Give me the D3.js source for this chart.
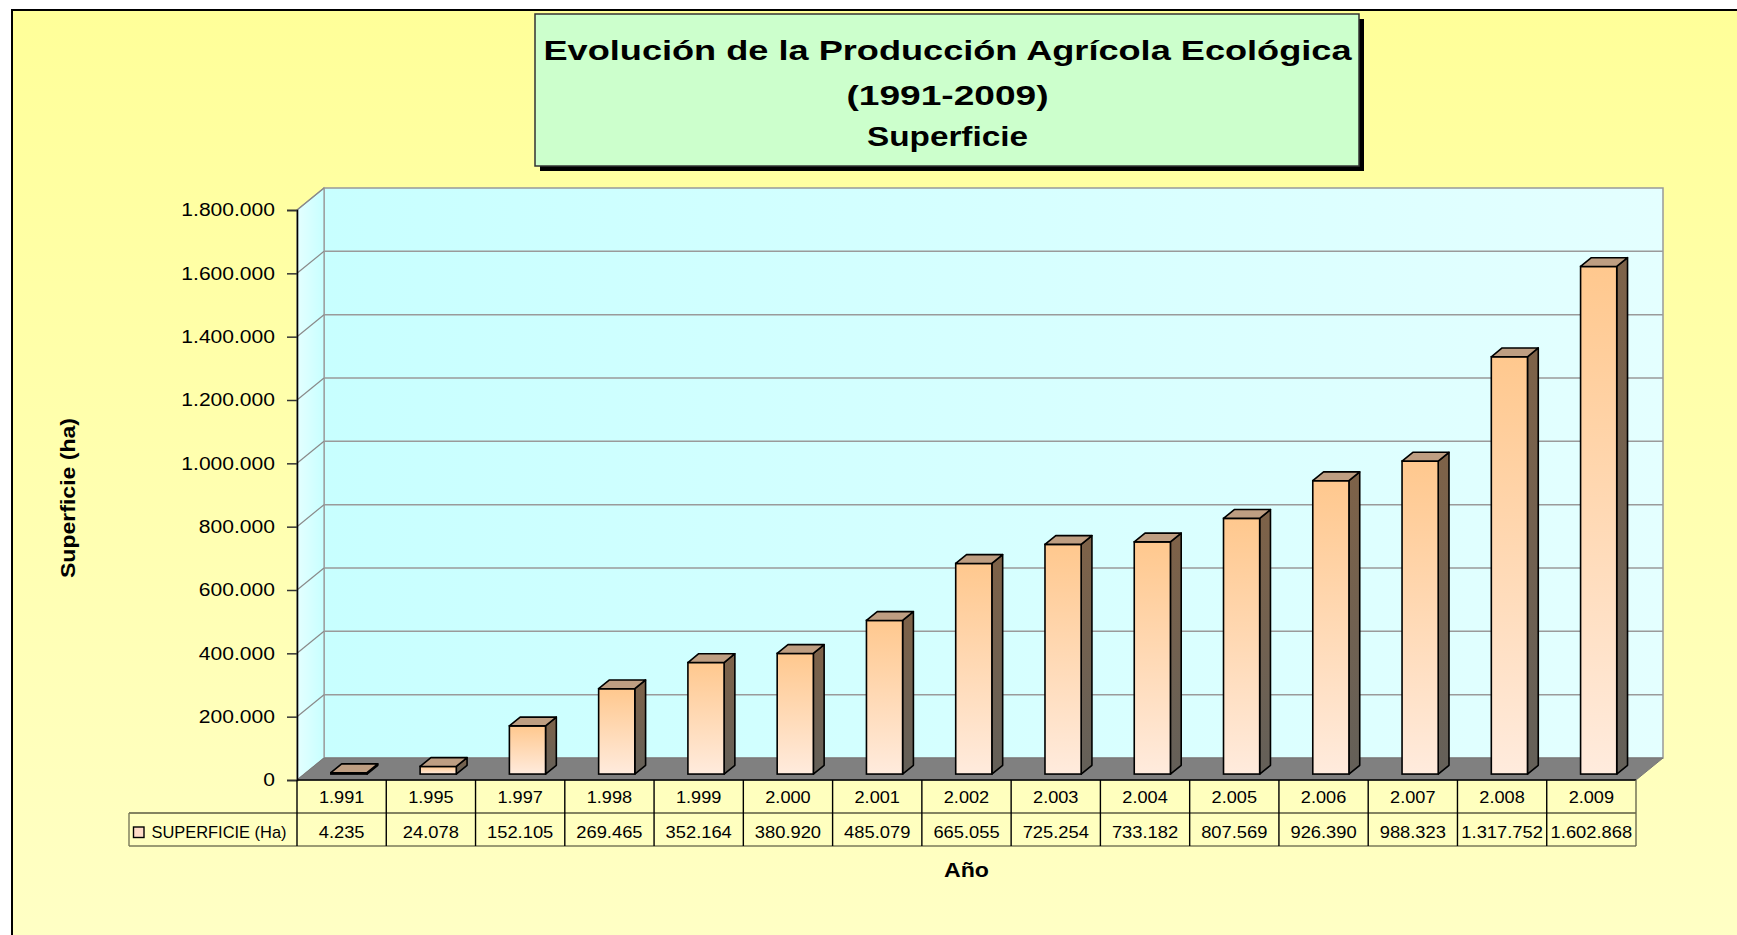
<!DOCTYPE html>
<html>
<head>
<meta charset="utf-8">
<script src="https://cdn.jsdelivr.net/npm/d3@7"></script>
<style>
  html, body { margin: 0; padding: 0; background: #ffffff; }
  svg { display: block; font-family: "Liberation Sans", Arial, Helvetica, sans-serif; }
</style>
</head>
<body>
<svg id="chart" width="1737" height="935"></svg>
<script>
// ---- data ----
const categories = ["1.991","1.995","1.997","1.998","1.999","2.000","2.001","2.002","2.003","2.004","2.005","2.006","2.007","2.008","2.009"];
const values = [4235, 24078, 152105, 269465, 352164, 380920, 485079, 665055, 725254, 733182, 807569, 926390, 988323, 1317752, 1602868];
const yTicks = [0, 200000, 400000, 600000, 800000, 1000000, 1200000, 1400000, 1600000, 1800000];
const seriesName = "SUPERFICIE (Ha)";
const titleLines = ["Evolución de la Producción Agrícola Ecológica", "(1991-2009)", "Superficie"];
const yTitle = "Superficie (ha)";
const xTitle = "Año";

// ---- layout ----
const W = 1737, H = 935;
const X0 = 297, X1 = 1636, YB = 780, YT = 210, DX = 27, DY = 22;
const ROW1 = 813, ROW2 = 846, LEG_X = 129;

const loc = d3.formatLocale({ decimal: ",", thousands: ".", grouping: [3], currency: ["", ""] });
const fmt = loc.format(",.0f");

const svg = d3.select("#chart");
const defs = svg.append("defs");

function linGrad(id, x1, y1, x2, y2, stops) {
  const g = defs.append("linearGradient").attr("id", id)
    .attr("x1", x1).attr("y1", y1).attr("x2", x2).attr("y2", y2);
  stops.forEach(s => g.append("stop").attr("offset", s[0]).attr("stop-color", s[1]));
}
linGrad("bgGrad", 0, 0, 0, 1, [[0, "#FFFF99"], [1, "#FFFFC6"]]);
linGrad("wallGrad", 0, 0, 1, 0, [[0, "#C8FFFF"], [1, "#E4FFFF"]]);
linGrad("sideGrad", 0, 0, 1, 0, [[0, "#E4FFFF"], [1, "#C8FFFF"]]);
linGrad("frontGrad", 0, 0, 0, 1, [[0, "#FFC88E"], [1, "#FFEBDD"]]);
linGrad("sideBarGrad", 0, 0, 0, 1, [[0, "#7E6248"], [1, "#646059"]]);

// background frame
svg.append("rect").attr("x", 12).attr("y", 10).attr("width", W + 20).attr("height", H + 20)
  .attr("fill", "url(#bgGrad)").attr("stroke", "#000").attr("stroke-width", 2);

// scales
const x = d3.scaleBand().domain(categories).range([X0, X1]).paddingInner(0).paddingOuter(0);
const y = d3.scaleLinear().domain([0, 1800000]).range([YB, YT]);

// back wall
svg.append("rect").attr("x", X0 + DX).attr("y", y(1800000) - DY)
  .attr("width", X1 - X0).attr("height", y(0) - y(1800000))
  .attr("fill", "url(#wallGrad)").attr("stroke", "#999").attr("stroke-width", 1.5);
// side wall
svg.append("path")
  .attr("d", `M${X0},${y(0)} L${X0},${y(1800000)} L${X0 + DX},${y(1800000) - DY} L${X0 + DX},${y(0) - DY} Z`)
  .attr("fill", "url(#sideGrad)").attr("stroke", "#999").attr("stroke-width", 1.2);
// floor
svg.append("path")
  .attr("d", `M${X0},${y(0)} L${X1},${y(0)} L${X1 + DX},${y(0) - DY} L${X0 + DX},${y(0) - DY} Z`)
  .attr("fill", "#808080").attr("stroke", "#777").attr("stroke-width", 1);

// gridlines
const grid = svg.append("g");
yTicks.filter(t => t > 0 && t < 1800000).forEach(t => {
  grid.append("line").attr("x1", X0 + DX).attr("x2", X1 + DX)
    .attr("y1", y(t) - DY).attr("y2", y(t) - DY).attr("stroke", "#9a9a9a").attr("stroke-width", 1.5);
});
yTicks.filter(t => t > 0).forEach(t => {
  grid.append("line").attr("x1", X0).attr("x2", X0 + DX)
    .attr("y1", y(t)).attr("y2", y(t) - DY).attr("stroke", "#8a8a8a").attr("stroke-width", 1.2);
});

// bars
const bw = x.bandwidth() * 0.405;
const f0 = 0.27, fd = 0.4;
const ddx = fd * DX, ddy = fd * DY;
const data = categories.map((c, i) => ({ c, v: values[i] }));
const bars = svg.append("g").selectAll("g").data(data).join("g");
bars.each(function (d) {
  const g = d3.select(this);
  const fx = x(d.c) + (x.bandwidth() - bw) / 2 + f0 * DX;
  const fy0 = y(0) - f0 * DY;
  const fy1 = y(d.v) - f0 * DY;
  g.append("path")
    .attr("d", `M${fx + bw},${fy1} L${fx + bw + ddx},${fy1 - ddy} L${fx + bw + ddx},${fy0 - ddy} L${fx + bw},${fy0} Z`)
    .attr("fill", "url(#sideBarGrad)").attr("stroke", "#000").attr("stroke-width", 1.6).attr("stroke-linejoin", "round");
  g.append("rect").attr("x", fx).attr("y", fy1).attr("width", bw).attr("height", Math.max(0.01, fy0 - fy1))
    .attr("fill", "url(#frontGrad)").attr("stroke", "#000").attr("stroke-width", 1.6);
  g.append("path")
    .attr("d", `M${fx},${fy1} L${fx + ddx},${fy1 - ddy} L${fx + bw + ddx},${fy1 - ddy} L${fx + bw},${fy1} Z`)
    .attr("fill", "#BE9E82").attr("stroke", "#000").attr("stroke-width", 1.6).attr("stroke-linejoin", "round");
});

// y axis
const yAxis = d3.axisLeft(y).tickValues(yTicks).tickSize(10).tickPadding(12)
  .tickFormat(d => fmt(d));
const ya = svg.append("g").attr("transform", `translate(${X0},0)`).call(yAxis);
ya.select(".domain").attr("stroke", "#000").attr("stroke-width", 1.6);
ya.selectAll(".tick line").attr("stroke", "#333").attr("stroke-width", 1.5);
ya.selectAll(".tick text").attr("font-size", 18).attr("fill", "#000")
  .style("font-family", "'Liberation Sans', Arial, sans-serif");

function stretch(sel, k) {
  sel.each(function () {
    const L = this.getComputedTextLength();
    this.setAttribute("textLength", L * k);
    this.setAttribute("lengthAdjust", "spacingAndGlyphs");
  });
}
stretch(ya.selectAll(".tick text"), 1.17);

// data table
const tbl = svg.append("g");
tbl.append("rect").attr("x", X0).attr("y", YB).attr("width", X1 - X0).attr("height", ROW2 - YB)
  .attr("fill", "none");
// horizontal lines
tbl.append("line").attr("x1", X0).attr("x2", X1).attr("y1", YB).attr("y2", YB).attr("stroke", "#000").attr("stroke-width", 1.6);
tbl.append("line").attr("x1", LEG_X).attr("x2", X1).attr("y1", ROW1).attr("y2", ROW1).attr("stroke", "#5a5a40").attr("stroke-width", 1.4);
tbl.append("line").attr("x1", LEG_X).attr("x2", X1).attr("y1", ROW2).attr("y2", ROW2).attr("stroke", "#7a7a5a").attr("stroke-width", 1.4);
tbl.append("line").attr("x1", LEG_X).attr("x2", LEG_X).attr("y1", ROW1).attr("y2", ROW2).attr("stroke", "#7a7a5a").attr("stroke-width", 1.4);
// vertical lines
const vx = categories.map(c => x(c)).concat([X1]);
vx.forEach((vxi, i) => {
  tbl.append("line").attr("x1", vxi).attr("x2", vxi).attr("y1", YB).attr("y2", ROW2)
    .attr("stroke", i === vx.length - 1 ? "#6a6a50" : "#000").attr("stroke-width", 1.4);
});
// year labels
const yl = tbl.append("g").selectAll("text").data(categories).join("text")
  .attr("x", d => x(d) + x.bandwidth() / 2).attr("y", 802.5)
  .attr("text-anchor", "middle").attr("font-size", 16.5).attr("fill", "#000").text(d => d);
stretch(yl, 1.1);
// values
const vl = tbl.append("g").selectAll("text").data(data).join("text")
  .attr("x", d => x(d.c) + x.bandwidth() / 2).attr("y", 837.5)
  .attr("text-anchor", "middle").attr("font-size", 16.5).attr("fill", "#000").text(d => fmt(d.v));
stretch(vl, 1.11);
// legend key
tbl.append("rect").attr("x", 133.5).attr("y", 827).attr("width", 10.5).attr("height", 10.5)
  .attr("fill", "#FFDCC8").attr("stroke", "#000").attr("stroke-width", 1.4);
tbl.append("text").attr("x", 151.5).attr("y", 837.5).attr("font-size", 16.4).attr("fill", "#000")
  .attr("textLength", 135).attr("lengthAdjust", "spacingAndGlyphs").text(seriesName);

// axis titles
svg.append("text").attr("transform", "translate(75,498) rotate(-90)")
  .attr("text-anchor", "middle").attr("font-size", 20).attr("font-weight", "bold").attr("fill", "#000")
  .attr("textLength", 160).attr("lengthAdjust", "spacingAndGlyphs").text(yTitle);
svg.append("text").attr("x", 966.5).attr("y", 877)
  .attr("text-anchor", "middle").attr("font-size", 20).attr("font-weight", "bold").attr("fill", "#000")
  .attr("textLength", 45).attr("lengthAdjust", "spacingAndGlyphs").text(xTitle);

// title box
const tb = { x: 535, y: 14, w: 824, h: 152 };
svg.append("rect").attr("x", tb.x + 5).attr("y", tb.y + 5).attr("width", tb.w).attr("height", tb.h).attr("fill", "#000");
svg.append("rect").attr("x", tb.x).attr("y", tb.y).attr("width", tb.w).attr("height", tb.h)
  .attr("fill", "#CCFFCC").attr("stroke", "#333").attr("stroke-width", 1.5);
const tcx = 947.5;
const titleSpecs = [
  { y: 59.5, len: 808, size: 28 },
  { y: 105, len: 202, size: 28 },
  { y: 145.5, len: 161, size: 28 }
];
titleLines.forEach((t, i) => {
  svg.append("text").attr("x", tcx).attr("y", titleSpecs[i].y)
    .attr("text-anchor", "middle").attr("font-size", titleSpecs[i].size).attr("font-weight", "bold")
    .attr("fill", "#000").attr("textLength", titleSpecs[i].len).attr("lengthAdjust", "spacingAndGlyphs")
    .text(t);
});
</script>
</body>
</html>
